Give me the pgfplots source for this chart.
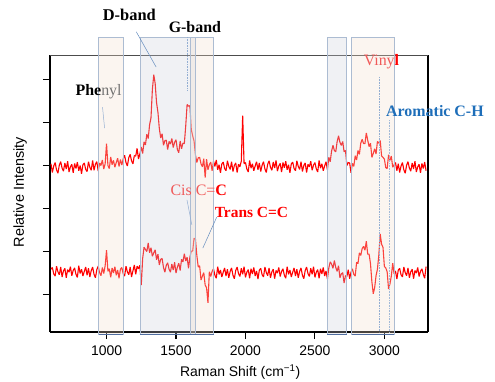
\documentclass[border=0pt]{standalone}
\usepackage{fontspec}
\setmainfont{Liberation Serif}
\setsansfont{Liberation Sans}
\usepackage{pgfplots}
\pgfplotsset{compat=1.18}
\usepackage{pgfplotstable}
\definecolor{beigeband}{RGB}{242,222,205}
\definecolor{greyband}{RGB}{205,208,218}
\definecolor{bandedge}{RGB}{172,188,210}
\definecolor{bandbottom}{RGB}{80,110,160}
\definecolor{leader}{RGB}{100,140,190}
\definecolor{arom}{RGB}{30,110,185}
\definecolor{cisred}{RGB}{240,90,90}

\pgfplotstableread{
x top bot
600 3.03 0.58
610 2.83 0.62
620 2.98 0.47
630 3.06 0.42
640 2.89 0.65
650 2.81 0.52
660 3.00 0.45
670 3.08 0.63
680 2.93 0.40
690 2.86 0.54
700 3.05 0.60
710 2.91 0.38
720 3.09 0.57
730 2.84 0.51
740 2.96 0.64
750 3.02 0.43
760 2.82 0.55
770 3.04 0.61
780 2.92 0.46
790 3.07 0.39
800 2.87 0.66
810 2.99 0.48
820 2.80 0.58
830 3.01 0.42
840 3.05 0.53
850 2.90 0.63
860 2.85 0.44
870 3.08 0.60
880 2.95 0.40
890 2.88 0.55
900 3.11 0.63
910 2.88 0.46
920 3.02 0.38
930 3.08 0.57
940 2.86 0.65
950 3.05 0.50
960 2.99 0.43
970 3.12 0.62
980 2.91 0.48
990 3.03 0.66
1000 3.50 1.02
1010 2.99 0.53
1020 2.92 0.59
1030 3.19 0.39
1040 3.01 0.61
1050 3.11 0.49
1060 2.95 0.64
1070 3.06 0.44
1080 3.16 0.56
1090 2.97 0.37
1100 3.13 0.58
1110 3.00 0.62
1120 3.15 0.47
1130 3.23 0.42
1140 3.06 0.65
1150 2.98 0.52
1160 3.17 0.45
1170 3.25 0.63
1180 3.10 0.40
1190 3.03 0.54
1200 3.22 0.68
1210 3.21 0.46
1220 3.39 0.65
1230 3.14 0.59
1240 3.26 0.67
1250 3.42 0.21
1260 3.27 0.83
1270 3.54 1.09
1280 3.47 1.04
1290 3.72 0.99
1300 3.62 1.19
1310 3.94 0.96
1320 4.10 1.08
1330 4.76 0.88
1340 5.10 0.96
1350 4.90 1.03
1360 4.45 0.80
1370 4.23 0.93
1380 3.85 0.68
1390 3.63 0.81
1400 3.73 0.83
1410 3.46 0.62
1420 3.57 0.51
1430 3.58 0.67
1440 3.36 0.73
1450 3.55 0.58
1460 3.49 0.51
1470 3.62 0.70
1480 3.41 0.56
1490 3.53 0.74
1500 3.59 0.49
1510 3.36 0.63
1520 3.29 0.72
1530 3.56 0.55
1540 3.38 0.81
1550 3.51 0.75
1560 3.50 0.94
1570 3.91 0.77
1580 4.41 0.86
1590 4.37 0.60
1600 4.38 0.86
1610 3.83 1.00
1620 3.68 1.00
1630 3.56 1.30
1640 3.24 1.28
1650 3.06 0.90
1660 3.17 0.63
1670 3.18 0.66
1680 3.03 0.33
1690 2.96 0.42
1700 3.15 0.50
1710 2.71 0.21
1720 3.14 0.15
1730 2.89 -0.20
1740 3.01 0.52
1750 3.07 0.41
1760 2.87 0.53
1770 3.09 0.59
1780 2.97 0.44
1790 3.12 0.37
1800 2.89 0.64
1810 3.01 0.46
1820 2.82 0.56
1830 3.03 0.40
1840 3.07 0.51
1850 2.92 0.61
1860 2.87 0.42
1870 3.10 0.58
1880 2.97 0.38
1890 2.90 0.53
1900 3.08 0.61
1910 2.85 0.44
1920 2.99 0.36
1930 3.05 0.55
1940 2.83 0.63
1950 3.02 0.48
1960 2.96 0.41
1970 3.09 0.60
1980 4.15 0.46
1990 3.03 0.64
2000 3.06 0.39
2010 2.91 0.51
2020 2.84 0.57
2030 3.11 0.37
2040 2.93 0.59
2050 3.03 0.47
2060 2.87 0.62
2070 2.98 0.42
2080 3.08 0.54
2090 2.89 0.35
2100 3.05 0.56
2110 2.85 0.60
2120 3.00 0.45
2130 3.08 0.40
2140 2.91 0.63
2150 2.83 0.50
2160 3.02 0.43
2170 3.10 0.61
2180 2.95 0.38
2190 2.88 0.52
2200 3.07 0.58
2210 2.93 0.36
2220 3.11 0.55
2230 2.86 0.49
2240 2.98 0.62
2250 3.04 0.41
2260 2.84 0.53
2270 3.06 0.59
2280 2.94 0.44
2290 3.09 0.37
2300 2.89 0.64
2310 3.01 0.46
2320 2.82 0.56
2330 3.03 0.40
2340 3.07 0.51
2350 2.92 0.61
2360 2.87 0.42
2370 3.10 0.58
2380 2.97 0.38
2390 2.90 0.53
2400 3.08 0.61
2410 2.85 0.44
2420 2.99 0.36
2430 3.05 0.55
2440 2.83 0.63
2450 3.02 0.48
2460 2.96 0.41
2470 3.09 0.60
2480 2.88 0.46
2490 3.00 0.64
2500 3.06 0.39
2510 2.91 0.51
2520 2.84 0.57
2530 3.11 0.37
2540 2.93 0.59
2550 3.03 0.47
2560 2.87 0.62
2570 2.98 0.42
2580 3.08 0.54
2590 2.89 0.35
2600 3.18 0.61
2610 3.08 0.75
2620 3.33 0.70
2630 3.46 0.60
2640 3.34 0.78
2650 3.31 0.62
2660 3.55 0.53
2670 3.68 0.66
2680 3.53 0.38
2690 3.46 0.47
2700 3.55 0.50
2710 3.31 0.26
2720 3.34 0.43
2730 2.99 0.41
2740 3.06 0.57
2750 3.05 0.36
2760 2.82 0.51
2770 3.04 0.59
2780 2.97 0.46
2790 3.22 0.42
2800 3.12 0.74
2810 3.34 0.71
2820 3.25 0.96
2830 3.51 0.90
2840 3.60 1.06
2850 3.50 1.11
2860 3.50 1.02
2870 3.75 1.23
2880 3.58 0.93
2890 3.43 0.93
2900 3.51 0.71
2910 3.18 0.29
2920 3.27 0.01
2930 3.38 0.15
2940 3.26 0.43
2950 3.55 0.58
2960 3.51 0.91
2970 3.57 1.40
2980 3.21 1.16
2990 3.18 1.09
3000 3.14 0.64
3010 2.94 0.61
3020 2.92 0.52
3030 3.24 0.12
3040 3.11 0.24
3050 3.21 0.42
3060 2.95 0.72
3070 3.01 0.47
3080 3.06 0.54
3090 2.87 0.35
3100 3.03 0.56
3110 2.83 0.60
3120 2.98 0.45
3130 3.06 0.40
3140 2.89 0.63
3150 2.81 0.50
3160 3.00 0.43
3170 3.08 0.61
3180 2.93 0.38
3190 2.86 0.52
3200 3.05 0.58
3210 2.91 0.36
3220 3.09 0.55
3230 2.84 0.49
3240 2.96 0.62
3250 3.02 0.41
3260 2.82 0.53
3270 3.04 0.59
3280 2.92 0.46
3290 3.07 0.37
3300 2.87 0.64
}\spectra

\begin{document}
\begin{tikzpicture}
\begin{axis}[name=ax,
  scale only axis, width=378bp, height=277bp,
  xmin=593, xmax=3314, ymin=-0.88, ymax=5.56,
  clip=false,
  axis x line*=bottom, axis y line*=left,
  axis line style={-, line width=1.3pt, black},
  xtick={1000,1500,2000,2500,3000},
  ytick={0,1,2,3,4,5}, yticklabels={},
  tick align=outside, major tick length=7bp,
  tick style={black, line width=1.1pt},
  ticklabel style={font=\sffamily\fontsize{14}{14}\selectfont},
  /pgf/number format/assume math mode=true,
  /pgf/number format/set thousands separator={},
  xticklabel style={yshift=-3bp},
  xlabel={Raman Shift (cm\textsuperscript{−1})},
  xlabel style={font=\sffamily\fontsize{14}{14}\selectfont, at={(axis description cs:0.503,-0.146)}, anchor=center},
  ylabel={Relative Intensity},
  ylabel style={font=\sffamily\fontsize{14.5}{15}\selectfont, at={(axis description cs:-0.079,0.505)}, anchor=center},
]
\addplot[red, line width=1.1pt, line join=bevel, no marks] table[x=x, y=top] {\spectra};
\addplot[red, line width=1.1pt, line join=bevel, no marks] table[x=x, y=bot] {\spectra};

% frame right and top
\draw[black, line width=1.3pt] (rel axis cs:1,0) -- (rel axis cs:1,1);
\draw[black!70, line width=0.9pt] (rel axis cs:0,1) -- (rel axis cs:1,1);

% bands
\fill[beigeband, fill opacity=0.3] (axis cs:943,-0.93) rectangle (axis cs:1121,5.98);
\fill[greyband, fill opacity=0.3] (axis cs:1243,-0.93) rectangle (axis cs:1636,5.98);
\fill[beigeband, fill opacity=0.3] (axis cs:1600,-0.93) rectangle (axis cs:1771,5.98);
\fill[greyband, fill opacity=0.3] (axis cs:2586,-0.93) rectangle (axis cs:2729,5.98);
\fill[beigeband, fill opacity=0.3] (axis cs:2764,-0.93) rectangle (axis cs:3071,5.98);
\draw[bandedge, line width=0.5pt] (axis cs:943,-0.93) rectangle (axis cs:1121,5.98);
\draw[bandedge, line width=0.5pt] (axis cs:1243,-0.93) rectangle (axis cs:1636,5.98);
\draw[bandedge, line width=0.5pt] (axis cs:1600,-0.93) rectangle (axis cs:1771,5.98);
\draw[bandedge, line width=0.5pt] (axis cs:2586,-0.93) rectangle (axis cs:2729,5.98);
\draw[bandedge, line width=0.5pt] (axis cs:2764,-0.93) rectangle (axis cs:3071,5.98);
\draw[bandbottom, line width=0.8pt] (axis cs:943,-0.93) -- (axis cs:1121,-0.93);
\draw[bandbottom, line width=0.8pt] (axis cs:1243,-0.93) -- (axis cs:1771,-0.93);
\draw[bandbottom, line width=0.8pt] (axis cs:2586,-0.93) -- (axis cs:2729,-0.93);
\draw[bandbottom, line width=0.8pt] (axis cs:2764,-0.93) -- (axis cs:3071,-0.93);

% leaders
\draw[leader, line width=0.5pt] (axis cs:1214,6.10) -- (axis cs:1357,5.28);
\draw[leader!70, densely dotted, line width=0.6pt] (axis cs:1579,5.98) -- (axis cs:1579,4.75);
\draw[leader!70, line width=0.5pt] (axis cs:971,4.35) -- (axis cs:986,3.86);
\draw[leader!70, densely dotted, line width=0.6pt] (axis cs:2964,5.05) -- (axis cs:2964,-0.88);
\draw[leader!60, densely dotted, line width=0.6pt] (axis cs:3036,4.05) -- (axis cs:3036,-0.88);
\draw[leader!70, line width=0.5pt] (axis cs:1579,2.19) -- (axis cs:1614,1.61);
\draw[leader, line width=0.5pt] (axis cs:1793,1.79) -- (axis cs:1693,1.07);

% labels
\node[font=\bfseries\fontsize{16.5}{18}\selectfont] at (axis cs:1164,6.49) {D-band};
\node[font=\bfseries\fontsize{16}{18}\selectfont] at (axis cs:1636,6.21) {G-band};
\node[font=\fontsize{16}{18}\selectfont] at (axis cs:943,4.70) {\textbf{Phe}{\color{black!55}nyl}};
\node[font=\fontsize{16}{18}\selectfont] at (axis cs:2979,5.40) {{\color{cisred}Viny}{\color{red}\bfseries l}};
\node[font=\bfseries\fontsize{16}{18}\selectfont, text=arom] at (axis cs:3364,4.26) {Aromatic C-H};
\node[font=\fontsize{16}{18}\selectfont] at (axis cs:1664,2.42) {{\color{cisred}Cis C=}{\color{red}\bfseries C}};
\node[font=\bfseries\fontsize{15.5}{18}\selectfont, text=red] at (axis cs:2043,1.89) {Trans C=C};
\end{axis}
\pgfresetboundingbox
\path[use as bounding box] ([shift={(-50bp,-50bp)}]ax.south west) rectangle ([shift={(445bp,332bp)}]ax.south west);
\end{tikzpicture}
\end{document}
